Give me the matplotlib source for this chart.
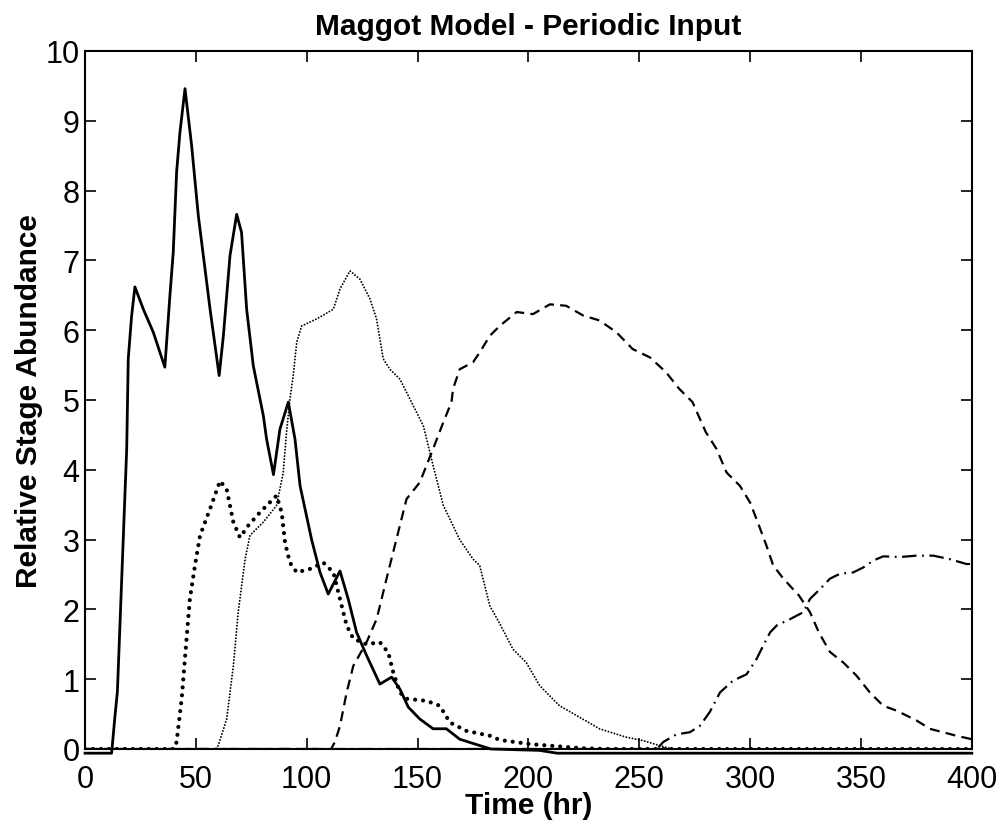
import numpy as np
import matplotlib.pyplot as plt

plt.rcParams.update({'font.family': 'Liberation Sans',
                     'font.size': 22,
                     'axes.linewidth': 1.5})

# stage 1 (solid)
t1 = [0, 12, 13.5, 14.6, 18.8, 19.5, 21, 22.5, 26.3, 30.8, 36, 38.3, 39.8, 41.3, 42.8, 45.1,
      48.1, 51.1, 56.4, 60.5, 62.4, 65.4, 68.4, 70.6, 72.9, 75.9, 80.4, 81.9, 85, 87.9, 91.7,
      94.7, 97, 102.2, 106, 109.7, 115, 118.7, 122.5, 127, 133, 138.3, 142, 145.8, 151, 157,
      163, 169, 178, 183, 205, 213, 400]
y1 = [-0.06, -0.06, 0.47, 0.82, 4.3, 5.59, 6.2, 6.62, 6.3, 5.97, 5.47, 6.5, 7.12, 8.26, 8.83, 9.46,
      8.64, 7.64, 6.3, 5.35, 5.92, 7.07, 7.66, 7.4, 6.3, 5.49, 4.78, 4.44, 3.93, 4.58, 4.97,
      4.44, 3.77, 3.0, 2.53, 2.22, 2.55, 2.15, 1.67, 1.34, 0.93, 1.03, 0.86, 0.6, 0.43, 0.29,
      0.29, 0.14, 0.05, 0.0, -0.02, -0.06, -0.06]

# stage 2 (heavy dots)
t2 = [0, 40, 41.3, 43.6, 45.8, 47.3, 49.6, 51.9, 56.4, 60.9, 63.9, 66.9, 69.9, 73.6, 78.9, 86.4,
      88.7, 90.2, 92.4, 95.5, 101.5, 107.5, 112, 115, 118, 121, 127, 133, 136.8, 139, 142, 145,
      154, 160, 164.6, 172, 182.6, 187, 200.7, 224.6, 235, 400]
y2 = [0, 0, 0.1, 0.72, 1.58, 2.15, 2.63, 3.06, 3.44, 3.84, 3.72, 3.25, 3.03, 3.2, 3.39, 3.63,
      3.39, 2.96, 2.67, 2.53, 2.58, 2.67, 2.53, 2.15, 1.77, 1.58, 1.5, 1.53, 1.38, 1.1, 0.81, 0.72,
      0.69, 0.62, 0.38, 0.26, 0.19, 0.13, 0.07, 0.01, 0, 0]

# stage 3 (fine dots)
t3 = [0, 59, 60.1, 63.9, 66.9, 69.1, 72.2, 74.4, 80.4, 86.4, 89.4, 90.9, 92.4, 93.9, 95.5, 97.7,
      104.4, 112, 115, 119.5, 124, 128.5, 131.5, 134.5, 137.5, 142, 146.6, 152.6, 157, 161.6,
      169, 175, 178, 182.6, 187, 193, 199, 205, 214, 221.7, 232, 244, 251.8, 259, 265, 400]
y3 = [0, 0, 0.05, 0.43, 1.19, 1.96, 2.72, 3.06, 3.25, 3.49, 3.96, 4.54, 5.01, 5.35, 5.83, 6.06,
      6.16, 6.3, 6.59, 6.85, 6.73, 6.45, 6.16, 5.59, 5.44, 5.3, 5.01, 4.63, 4.06, 3.49,
      3.0, 2.72, 2.63, 2.05, 1.8, 1.43, 1.24, 0.91, 0.62, 0.48, 0.29, 0.17, 0.12, 0.05, 0, 0]

# stage 4 (dashed)
t4 = [0, 111, 112.7, 115, 118, 121, 127, 131.5, 133, 136, 139, 142, 145, 151, 154, 157, 161.6,
      165.3, 166, 169, 175, 178, 182.6, 187, 194.7, 202, 209.7, 217, 224.7, 232, 239.7, 247,
      254.8, 262, 268, 274, 280, 284.8, 289.4, 295.4, 300, 304, 307.4, 310.4, 315, 322, 327,
      331, 336, 342, 348, 354, 360, 366, 375, 381, 387, 393, 400]
y4 = [0, 0, 0.1, 0.33, 0.81, 1.19, 1.53, 1.86, 2.05, 2.44, 2.82, 3.2, 3.58, 3.82, 4.06, 4.3, 4.68,
      4.97, 5.16, 5.44, 5.54, 5.68, 5.92, 6.06, 6.26, 6.23, 6.37, 6.35, 6.21, 6.14, 5.97, 5.73,
      5.61, 5.4, 5.16, 4.97, 4.54, 4.3, 3.96, 3.77, 3.53, 3.2, 2.91, 2.63, 2.44, 2.2, 1.96,
      1.67, 1.39, 1.24, 1.05, 0.81, 0.62, 0.55, 0.41, 0.29, 0.24, 0.19, 0.14]

# stage 5 (dash-dot)
t5 = [0, 258, 260.8, 266.8, 272.8, 277.3, 281.8, 286.4, 292.3, 298.4, 302.9, 305.9, 309, 312,
      318, 324, 327, 331.5, 336, 340.5, 346.5, 351, 355.6, 360, 367.6, 375, 382.6, 390, 397.6, 400]
y5 = [0, 0, 0.1, 0.21, 0.24, 0.33, 0.53, 0.81, 0.98, 1.07, 1.29, 1.48, 1.67, 1.77,
      1.86, 1.96, 2.15, 2.29, 2.44, 2.51, 2.53, 2.6, 2.7, 2.76, 2.75, 2.77, 2.77, 2.72, 2.65, 2.65]

fig = plt.figure(figsize=(10.05, 8.29), dpi=100)
ax = fig.add_axes([0.0846, 0.0953, 0.8824, 0.8420])

ax.plot(t1, y1, 'k-', linewidth=2, clip_on=False)
ax.plot(t2, y2, color='k', linewidth=3.0, linestyle=(0, (0.01, 1.9)), dash_capstyle='round')
ax.plot(t3, y3, color='k', linewidth=1.4, linestyle=(0, (0.01, 1.6)), dash_capstyle='round')
ax.plot(t4, y4, color='k', linewidth=1.6, linestyle=(0, (4.5, 2.8)))
ax.plot(t5, y5, color='k', linewidth=1.6, linestyle=(0, (6.5, 2.5, 0.8, 2.5)))

ax.set_xlim(0, 400)
ax.set_ylim(0, 10)
ax.set_xticks(np.arange(0, 401, 50))
ax.set_yticks(np.arange(0, 11, 1))
ax.tick_params(direction='in', length=8, width=1.2, top=True, right=True)
ax.tick_params(axis='x', pad=11)
ax.tick_params(axis='y', pad=4)

ax.set_title('Maggot Model - Periodic Input', fontsize=21.5, fontweight='bold', pad=12)
ax.set_xlabel('Time (hr)', fontsize=21.5, fontweight='bold', labelpad=-2)
ax.set_ylabel('Relative Stage Abundance', fontsize=21.5, fontweight='bold', labelpad=2)

fig.savefig('out.png', dpi=100)
